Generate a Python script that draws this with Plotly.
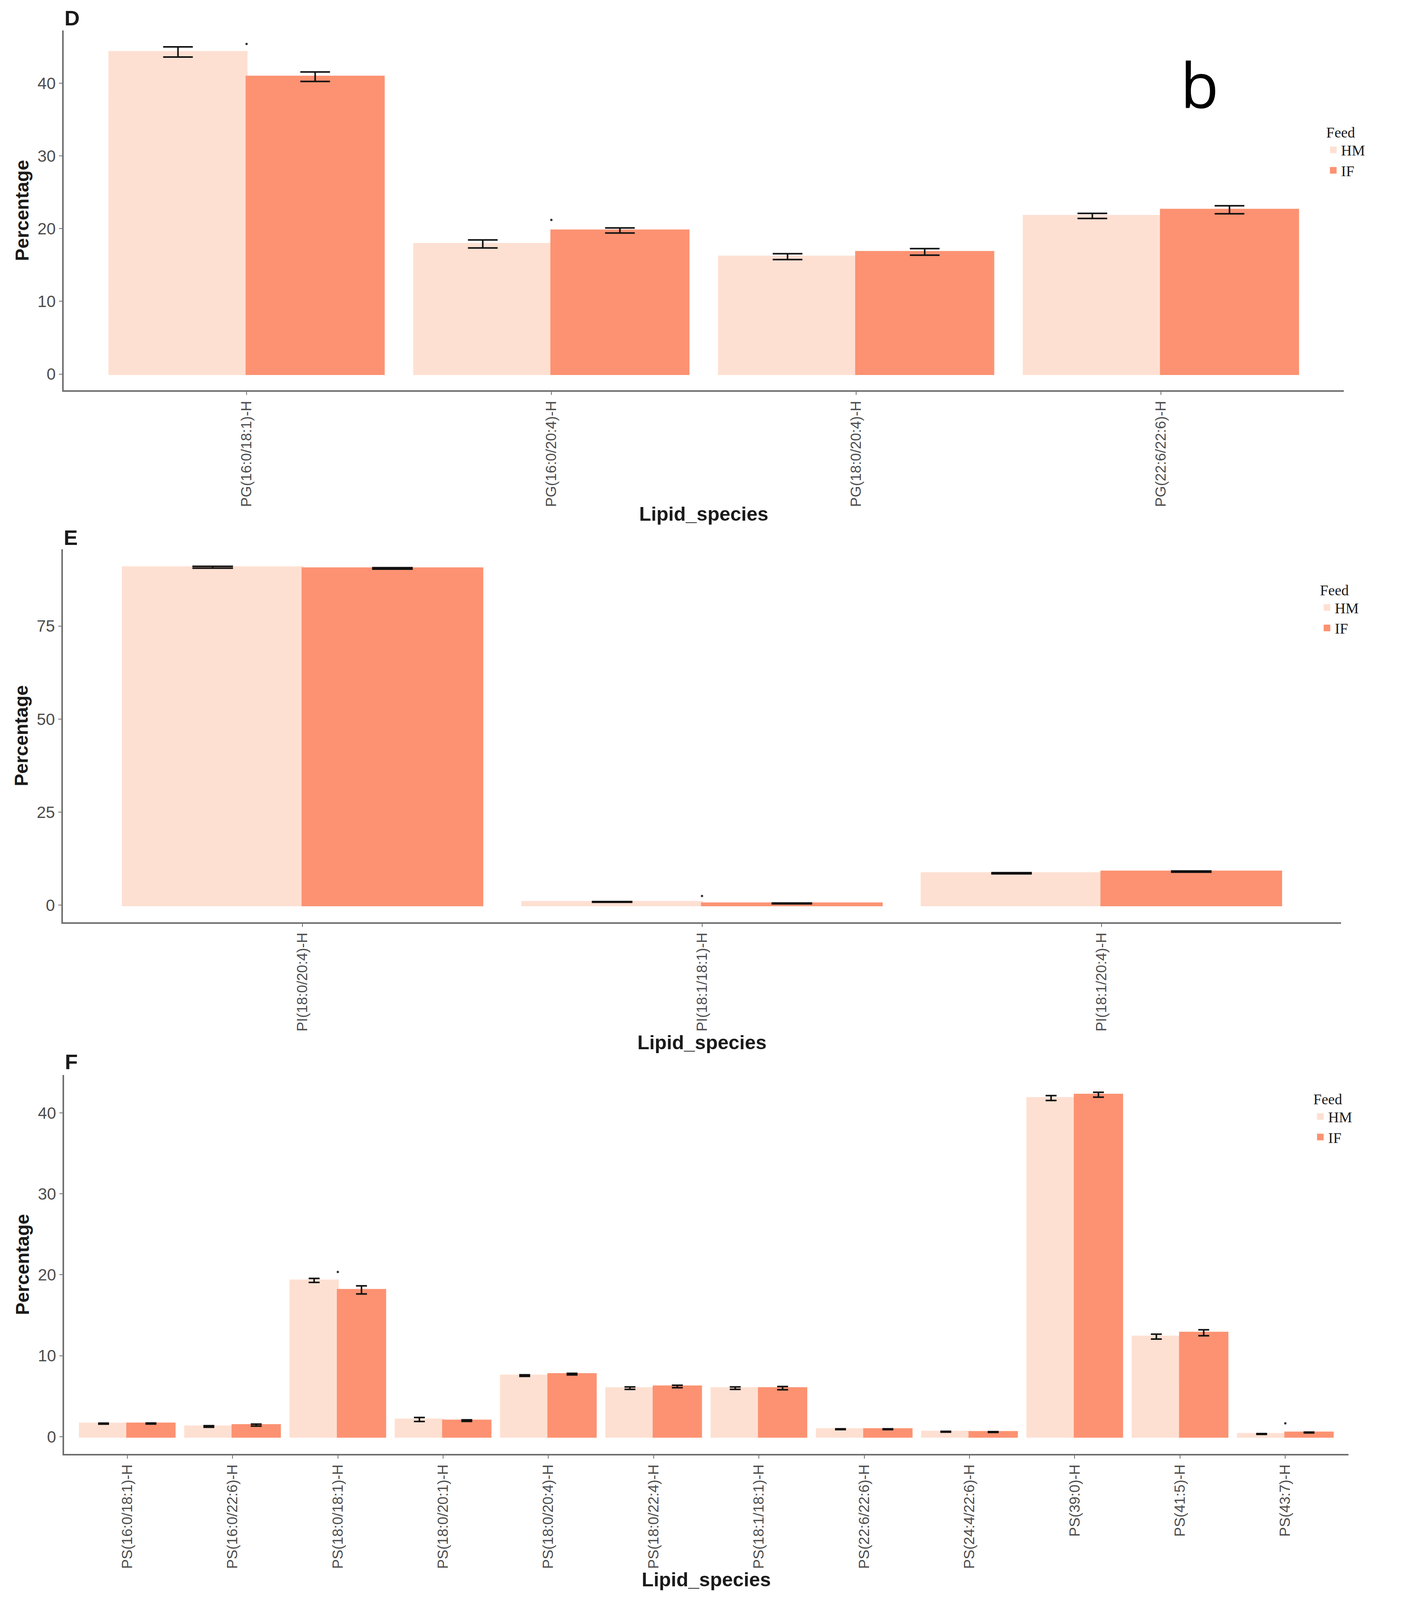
import plotly.graph_objects as go

# ---- panel D: PG species ----
pg_species = ["PG(16:0/18:1)-H", "PG(16:0/20:4)-H", "PG(18:0/20:4)-H", "PG(22:6/22:6)-H"]
pg_hm = [44.3, 17.9, 16.15, 21.75]
pg_hm_se = [0.7, 0.55, 0.4, 0.35]
pg_if = [40.9, 19.75, 16.8, 22.6]
pg_if_se = [0.65, 0.35, 0.45, 0.55]
pg_sig_species = ["PG(16:0/18:1)-H", "PG(16:0/20:4)-H"]
pg_sig_y = [45.4, 21.2]

# ---- panel E: PI species ----
pi_species = ["PI(18:0/20:4)-H", "PI(18:1/18:1)-H", "PI(18:1/20:4)-H"]
pi_hm = [90.8, 0.9, 8.6]
pi_hm_se = [0.25, 0.1, 0.15]
pi_if = [90.5, 0.5, 9.05]
pi_if_se = [0.2, 0.1, 0.15]
pi_sig_species = ["PI(18:1/18:1)-H"]
pi_sig_y = [2.5]

# ---- panel F: PS species ----
ps_species = ["PS(16:0/18:1)-H", "PS(16:0/22:6)-H", "PS(18:0/18:1)-H", "PS(18:0/20:1)-H",
              "PS(18:0/20:4)-H", "PS(18:0/22:4)-H", "PS(18:1/18:1)-H", "PS(22:6/22:6)-H",
              "PS(24:4/22:6)-H", "PS(39:0)-H", "PS(41:5)-H", "PS(43:7)-H"]
ps_hm = [1.62, 1.27, 19.3, 2.13, 7.55, 6.0, 6.0, 0.93, 0.62, 41.82, 12.36, 0.34]
ps_hm_se = [0.06, 0.1, 0.25, 0.25, 0.1, 0.15, 0.15, 0.05, 0.05, 0.3, 0.3, 0.05]
ps_if = [1.63, 1.44, 18.13, 1.99, 7.73, 6.21, 6.0, 0.93, 0.58, 42.23, 12.84, 0.52]
ps_if_se = [0.06, 0.12, 0.5, 0.1, 0.1, 0.15, 0.2, 0.05, 0.05, 0.3, 0.37, 0.05]
ps_sig_species = ["PS(18:0/18:1)-H", "PS(43:7)-H"]
ps_sig_y = [20.35, 1.65]

HM_COLOR = "#FEE0D2"
IF_COLOR = "#FC9272"

# the browser view is 3611x4096 with an 8px body margin; reference page is 3611x5139
REF_W, REF_H = 3611, 5139
VIEW_H = 4096
MARGIN = 8
W, H = REF_W - MARGIN, VIEW_H - MARGIN


def fx(v):
    # reference x pixel -> paper fraction
    return (v - MARGIN) / W


def fy(v):
    # reference y pixel -> paper fraction (bottom = 0)
    return 1 - (v * VIEW_H / REF_H - MARGIN) / H


panels = [
    dict(tag="D", cats=pg_species, hm=pg_hm, hm_se=pg_hm_se, iff=pg_if, if_se=pg_if_se,
         sig_x=pg_sig_species, sig_y=pg_sig_y, yrange=[-2.25, 47.25], dtick=10,
         left=163, right=3439, top=98, bottom=1254, cap=38, legend_y=380, tag_y=58),
    dict(tag="E", cats=pi_species, hm=pi_hm, hm_se=pi_hm_se, iff=pi_if, if_se=pi_if_se,
         sig_x=pi_sig_species, sig_y=pi_sig_y, yrange=[-4.55, 95.65], dtick=25,
         left=161, right=3432, top=1764, bottom=2962, cap=52, legend_y=1850, tag_y=1726),
    dict(tag="F", cats=ps_species, hm=ps_hm, hm_se=ps_hm_se, iff=ps_if, if_se=ps_if_se,
         sig_x=ps_sig_species, sig_y=ps_sig_y, yrange=[-2.13, 44.66], dtick=10,
         left=164, right=3451, top=3453, bottom=4670, cap=14, legend_y=3485, tag_y=3410),
]
legend_x = [3392, 3376, 3359]

tick_font = dict(family="Liberation Sans, Arial", size=42, color="#4D4D4D")
xtick_font = dict(family="Liberation Sans, Arial", size=37, color="#4D4D4D")
title_font = dict(family="Liberation Sans, Arial", size=50, color="#1A1A1A", weight="bold")
legend_font = dict(family="Liberation Serif, Times New Roman", size=38, color="#1A1A1A")

fig = go.Figure()
layout = dict(
    width=W, height=H,
    margin=dict(l=0, r=0, t=0, b=0),
    paper_bgcolor="white", plot_bgcolor="white",
    barmode="group", bargap=0.1, bargroupgap=0,
    annotations=[],
)

for i, p in enumerate(panels):
    n = "" if i == 0 else str(i + 1)
    xa, ya, leg = "x" + n, "y" + n, "legend" + n
    for name, vals, se, col in [("HM", p["hm"], p["hm_se"], HM_COLOR),
                                ("IF", p["iff"], p["if_se"], IF_COLOR)]:
        fig.add_trace(go.Bar(
            x=p["cats"], y=vals, name=name,
            marker=dict(color=col, line=dict(width=5, color=col)),
            error_y=dict(type="data", array=se, color="#111111", thickness=4, width=p["cap"]),
            xaxis=xa, yaxis=ya, legend=leg,
        ))
    fig.add_trace(go.Scatter(
        x=p["sig_x"], y=p["sig_y"], mode="markers",
        marker=dict(size=6, color="#333333"), showlegend=False,
        xaxis=xa, yaxis=ya,
    ))

    layout["xaxis" + n] = dict(
        domain=[fx(p["left"]), fx(p["right"])], anchor=ya, type="category",
        range=[-0.6, len(p["cats"]) - 0.4],
        showline=True, linecolor="#6E6E6E", linewidth=4,
        ticks="outside", ticklen=8, tickwidth=2, tickcolor="#6E6E6E",
        tickangle=-90, tickfont=xtick_font, showgrid=False, zeroline=False,
        title=dict(text="Lipid_species", font=title_font, standoff=2),
    )
    layout["yaxis" + n] = dict(
        domain=[fy(p["bottom"]), fy(p["top"])], anchor=xa,
        range=p["yrange"], dtick=p["dtick"], tick0=0,
        showline=True, linecolor="#6E6E6E", linewidth=4,
        ticks="outside", ticklen=8, tickwidth=2, tickcolor="#6E6E6E",
        tickfont=tick_font, showgrid=False, zeroline=False,
        title=dict(text="Percentage", font=dict(title_font, size=48), standoff=8),
    )
    layout[leg] = dict(
        title=dict(text="Feed", font=legend_font),
        font=legend_font, x=fx(legend_x[i]), xanchor="left",
        y=fy(p["legend_y"]), yanchor="top",
        bgcolor="rgba(0,0,0,0)", tracegroupgap=0, itemwidth=30,
    )
    layout["annotations"].append(dict(
        text=p["tag"], xref="paper", yref="paper", x=fx(p["left"]), y=fy(p["tag_y"]),
        xanchor="left", yanchor="middle", showarrow=False,
        font=dict(family="Liberation Sans, Arial", size=54, color="#1A1A1A", weight="bold"),
    ))

# large sub-figure letter
layout["annotations"].append(dict(
    text="b", xref="paper", yref="paper", x=fx(3070), y=fy(268),
    xanchor="center", yanchor="middle", showarrow=False,
    font=dict(family="Open Sans, Liberation Sans", size=160, color="black"),
))

fig.update_layout(**layout)
fig.write_html("out.html")
